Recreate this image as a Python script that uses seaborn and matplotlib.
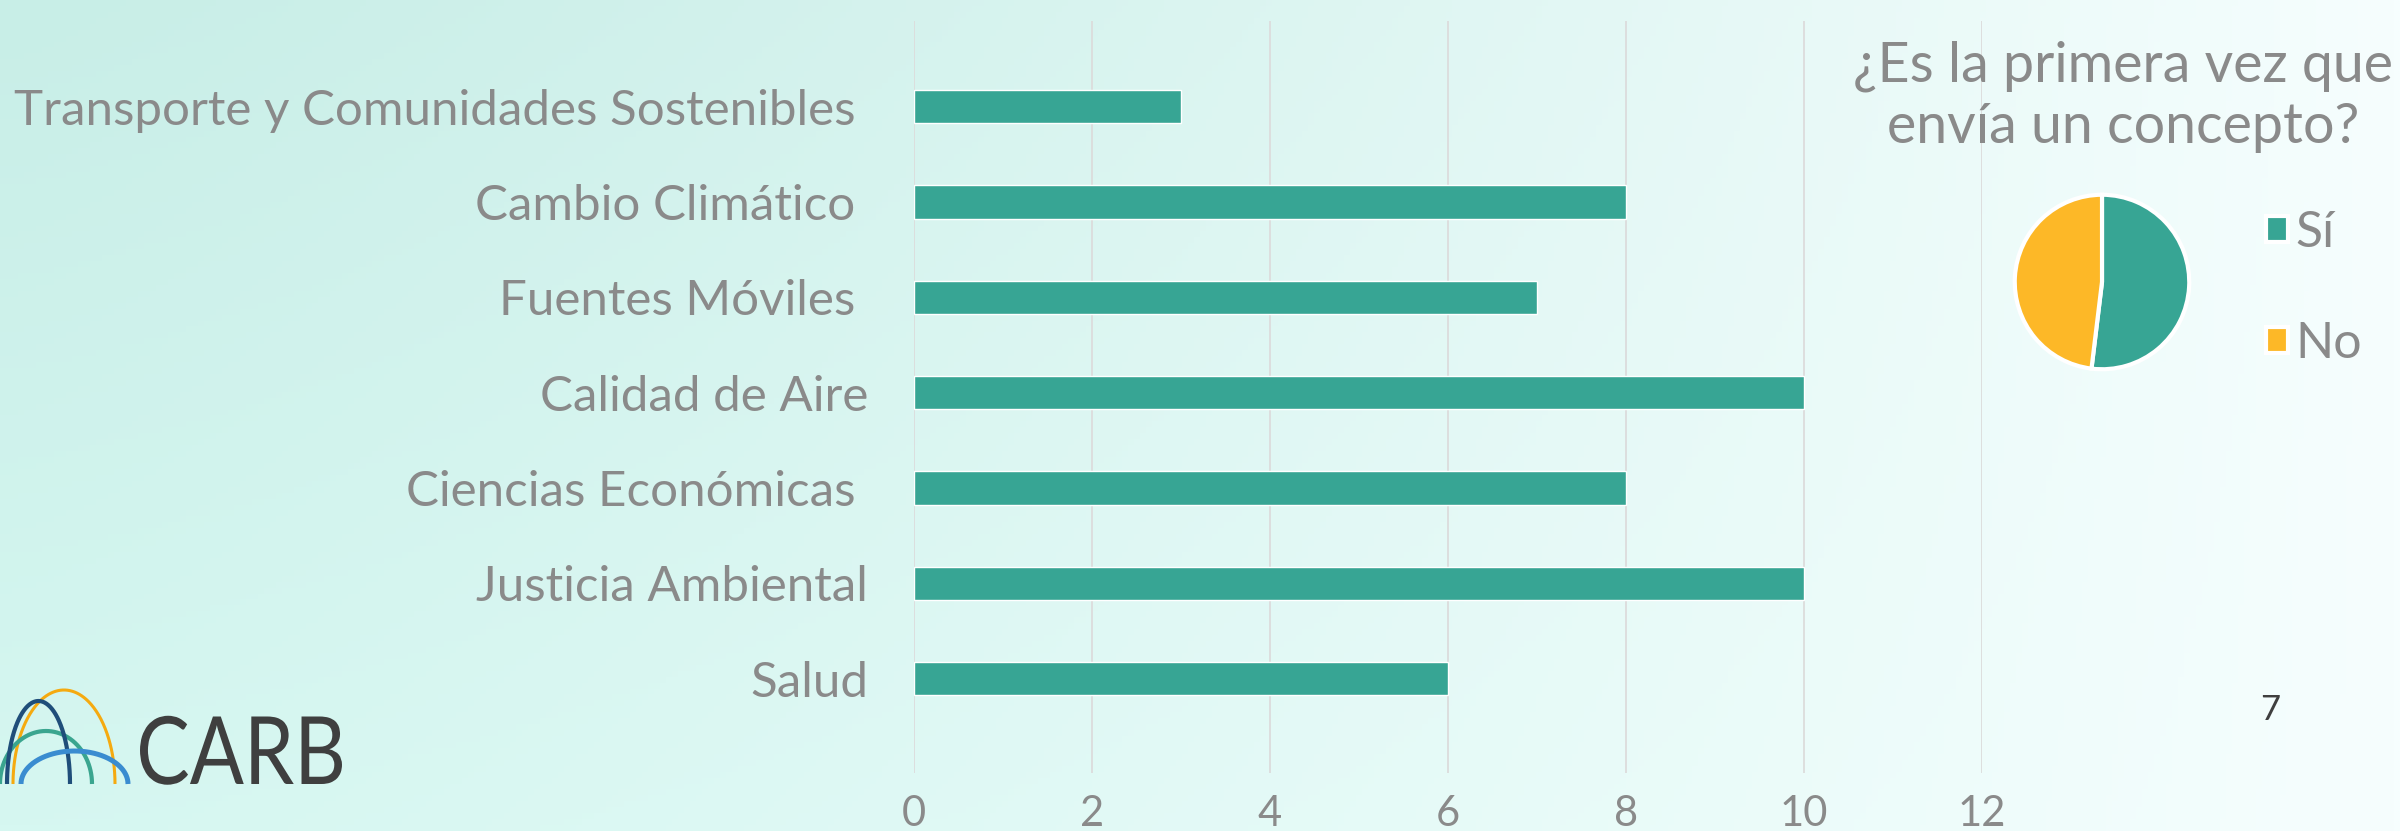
import matplotlib
matplotlib.use('Agg')
import matplotlib.pyplot as plt
import numpy as np
import pandas as pd
import seaborn as sns
from matplotlib.font_manager import FontProperties
from matplotlib.patches import PathPatch
from matplotlib.textpath import TextPath
from matplotlib.transforms import Affine2D

# bar chart data (labels keep the trailing spaces of the original slide)
categories = ['Transporte y Comunidades Sostenibles ', 'Cambio Climático ', 'Fuentes Móviles ',
              'Calidad de Aire', 'Ciencias Económicas ', 'Justicia Ambiental', 'Salud']
counts = [3, 8, 7, 10, 8, 10, 6]
x_ticks = [0, 2, 4, 6, 8, 10, 12]

# pie chart data
pie_labels = ['Sí', 'No']
pie_values = [27, 25]
pie_title = ['¿Es la primera vez que', 'envía un concepto?']

TEAL = '#37a594'
ORANGE = '#fdb827'
GRAY = '#8a8a8a'
DARK = '#3f3f3f'

sns.set_style('white')
plt.rcParams['font.family'] = ['Lato', 'DejaVu Sans']

W, H = 2400, 831
fig = plt.figure(figsize=(24, 8.31), dpi=100)

# background gradient + logo layer in pixel coordinates
bg = fig.add_axes([0, 0, 1, 1], zorder=-5)
xx = np.linspace(0, 1, 400)[None, :, None]
yy = np.linspace(0, 1, 140)[:, None, None]
left_top = np.array([200, 238, 231]) / 255
left_bot = np.array([214, 247, 241]) / 255
right = np.array([246, 254, 254]) / 255
left_col = left_top * (1 - yy) + left_bot * yy
img = left_col * (1 - xx ** 1.3) + right * xx ** 1.3
bg.imshow(img, extent=[0, W, H, 0], aspect='auto')
bg.set_xlim(0, W)
bg.set_ylim(H, 0)
bg.axis('off')

t = np.linspace(0, np.pi, 200)
for x0, x1, top, col, lw in [(13, 115, 690, '#f5aa10', 2.2), (0, 92, 731, '#3aa58f', 3.0),
                             (7, 70, 701, '#1f4e7a', 3.0), (21, 128, 751, '#3a8cd0', 3.6)]:
    cx, a, b = (x0 + x1) / 2, (x1 - x0) / 2, 784 - top
    bg.plot(cx + a * np.cos(t), 784 - b * np.sin(t), color=col, lw=lw, solid_capstyle='butt')

# logo word, squeezed horizontally like the original lettering
tp = TextPath((0, 0), 'CARB', size=100, prop=FontProperties(family='Lato'))
ext = tp.get_extents()
sx = 202 / ext.width
sy = 69 / ext.height
logo = Affine2D().translate(-ext.x0, 0).scale(sx, -sy).translate(140, 784).transform_path(tp)
bg.add_patch(PathPatch(logo, facecolor=DARK, edgecolor='none'))

fig.text(2270 / W, 1 - 720 / H, '7', fontsize=25, color=DARK, va='baseline', ha='center')

# horizontal bar chart
df = pd.DataFrame({'category': categories, 'count': counts})
ax = fig.add_axes([914 / W, 1 - 773 / H, (1982 - 914) / W, (773 - 21) / H])
ax.patch.set_alpha(0)
sns.barplot(data=df, x='count', y='category', orient='h', color=TEAL, width=0.35,
            saturation=1, ax=ax, zorder=3)
ax.set_xlim(0, 12)
ax.set_ylim(6.99, -0.9)
ax.set_xticks(x_ticks)
ax.set_xticklabels([str(v) for v in x_ticks])
ax.grid(axis='x', color='#dcdcdc', lw=1.3, zorder=0)
ax.grid(axis='y', visible=False)
for s in ax.spines.values():
    s.set_visible(False)
ax.set_xlabel('')
ax.set_ylabel('')
ax.tick_params(axis='y', length=0, pad=33, labelsize=35.5, labelcolor=GRAY)
ax.tick_params(axis='x', length=0, pad=16, labelsize=30, labelcolor=GRAY)

# pie chart
r = 89
pax = fig.add_axes([(2102 - r) / W, 1 - (282 + r) / H, 2 * r / W, 2 * r / H])
wedges, _ = pax.pie(pie_values, colors=[TEAL, ORANGE], startangle=90, counterclock=False,
                    radius=1, wedgeprops=dict(edgecolor='white', linewidth=3))
pax.set_xlim(-1.02, 1.02)
pax.set_ylim(-1.02, 1.02)
pax.set_aspect('equal')

fig.text(2123 / W, 1 - 82 / H, pie_title[0], fontsize=40, color=GRAY, ha='center', va='baseline')
fig.text(2123 / W, 1 - 143 / H, pie_title[1], fontsize=40, color=GRAY, ha='center', va='baseline')

fig.legend(wedges, pie_labels, loc='upper left', bbox_to_anchor=(2266 / W, 1 - 210 / H),
           frameon=False, fontsize=36, labelcolor=GRAY, handlelength=0.43, handleheight=0.43,
           handletextpad=0.15, labelspacing=1.3, borderpad=0, borderaxespad=0)

fig.savefig('out.png', dpi=100)
